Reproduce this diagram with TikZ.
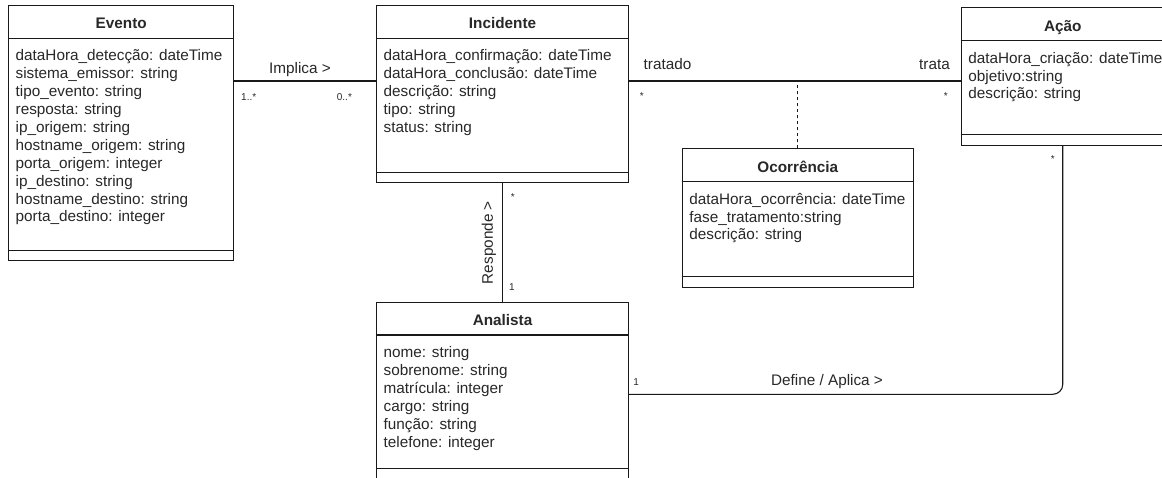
\documentclass[tikz,border=0pt]{standalone}
\usepackage{fontspec}
\setmainfont{Liberation Sans}
\usetikzlibrary{calc}
\definecolor{ink}{RGB}{25,25,25}
\definecolor{textink}{RGB}{40,40,40}
\tikzset{
  classbox/.style={draw=ink, line width=1.1pt, anchor=north west, inner sep=0pt, fill=white},
  rule/.style={draw=ink, line width=1.1pt},
  attr/.style={anchor=base west, inner sep=0pt, text=textink, font=\fontsize{15.3}{17.9}\selectfont},
  classtitle/.style={anchor=base, inner sep=0pt, text=textink, font=\bfseries\fontsize{15.3}{17.9}\selectfont},
  conn/.style={draw=ink, line width=1.1pt},
  lbl/.style={inner sep=0pt, text=textink, font=\fontsize{15.3}{17.9}\selectfont},
  mult/.style={inner sep=0pt, text=textink, anchor=base west, font=\fontsize{10}{12}\selectfont},
}
% UML class: name, x, y (top left), width, height, title, attributes
\newcommand\umlclass[7]{%
  \node[classbox, minimum width=#4pt, minimum height=#5pt] (#1) at (#2,#3) {};
  \draw[rule] ($(#1.north west)+(0,33.3)$) -- ($(#1.north east)+(0,33.3)$);
  \draw[rule] ($(#1.south west)+(0,-11)$) -- ($(#1.south east)+(0,-11)$);
  \node[classtitle] (#1-title) at ($(#1.north)+(0,23.7)$) {#6};
  \foreach \a [count=\i from 0] in {#7} {
    \node[attr] (#1-a\i) at ($(#1.north west)+(7.5,55.8+17.9*\i)$) {\a};
  }%
}
\begin{document}
\begin{tikzpicture}[x=1pt, y=-1pt]
\useasboundingbox (0,0) rectangle (1162,477);
\clip (0,0) rectangle (1162,477);

\umlclass{evento}{8}{5}{225.3}{255}{Evento}{%
  dataHora\_detecção: dateTime,
  sistema\_emissor: string,
  tipo\_evento: string,
  resposta: string,
  ip\_origem: string,
  hostname\_origem: string,
  porta\_origem: integer,
  ip\_destino: string,
  hostname\_destino: string,
  porta\_destino: integer}

\umlclass{incidente}{376}{5}{252}{177.3}{Incidente}{%
  dataHora\_confirmação: dateTime,
  dataHora\_conclusão: dateTime,
  descrição: string,
  tipo: string,
  status: string}

\umlclass{acao}{960.7}{7.3}{203}{137.4}{Ação}{%
  dataHora\_criação: dateTime,
  objetivo:string,
  descrição: string}

\umlclass{ocorrencia}{681.7}{148.3}{231}{138.4}{Ocorrência}{%
  dataHora\_ocorrência: dateTime,
  fase\_tratamento:string,
  descrição: string}

\umlclass{analista}{376}{301.7}{252}{176.3}{Analista}{%
  nome: string,
  sobrenome: string,
  matrícula: integer,
  cargo: string,
  função: string,
  telefone: integer}

% associations
\draw[conn] (evento.east |- 0,81) -- (incidente.west |- 0,81);
\draw[conn] (incidente.east |- 0,81) -- (acao.west |- 0,81);
\draw[conn, dash pattern=on 3pt off 3pt] (ocorrencia.north) -- (ocorrencia.north |- 0,81);
\draw[conn] (incidente.south) -- (analista.north);
\draw[conn, rounded corners=10pt] (analista.east |- 0,394.3) -| (acao.south);

% association labels and multiplicities
\node[lbl, anchor=base] (implica) at (300,73.8) {Implica >};
\node[mult] (m-ev) at (241,100) {1..*};
\node[mult] (m-in) at (336.7,100) {0..*};
\node[lbl, anchor=base west] (tratado) at (643.5,69.5) {tratado};
\node[mult] (m-tr1) at (639.7,99.1) {*};
\node[lbl, anchor=base east] (trata) at (950,69.5) {trata};
\node[mult] (m-tr2) at (943.6,99.1) {*};
\node[mult] (m-ac) at (1050.7,162.8) {*};
\node[lbl, rotate=90] (responde) at (489,242.7) {Responde >};
\node[mult] (m-re1) at (510.7,200.8) {*};
\node[mult] (m-re2) at (508.9,290.6) {1};
\node[mult] (m-de) at (633.2,385.6) {1};
\node[lbl, anchor=base] (define) at (827,385) {Define / Aplica >};
\end{tikzpicture}
\end{document}
